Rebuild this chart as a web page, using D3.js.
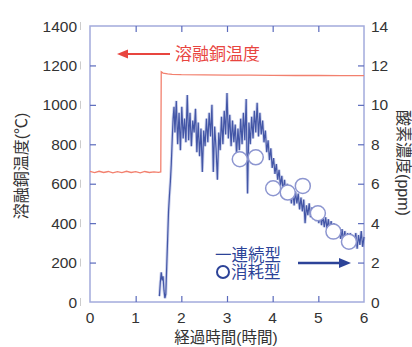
<!DOCTYPE html>
<html><head><meta charset="utf-8">
<script src="https://cdn.jsdelivr.net/npm/d3@7"></script>
<style>body{margin:0;background:#fff}svg{display:block}</style>
</head><body><svg id="c" width="412" height="347"></svg>
<script>
const xTicks = [0,1,2,3,4,5,6];
const tempTicks = [0,200,400,600,800,1000,1200,1400];
const oxyTicks = [0,2,4,6,8,10,12,14];

const tempTime = [0,0.1,0.2,0.3,0.4,0.5,0.6,0.7,0.8,0.9,1.0,1.1,1.2,1.3,1.4,1.5,1.55,1.56,1.6,1.7,1.8,2.0,2.5,3.0,3.5,4.0,4.5,5.0,5.5,6.0];
const tempValue = [662,656,663,657,662,655,661,656,663,657,661,655,662,657,660,658,660,1168,1161,1157,1155,1153,1152,1151,1151,1150,1149,1149,1148,1148];

const oxyTime = [1.52,1.54,1.56,1.58,1.60,1.62,1.64,1.66,1.68,1.70,1.72,1.74,1.76,1.78,1.80,1.82,1.84,
1.86,1.89,1.92,1.95,1.98,2.01,2.04,2.07,2.10,2.13,2.16,2.19,2.22,2.25,2.28,2.31,2.34,2.37,2.40,2.43,2.46,2.49,2.52,2.55,2.58,2.61,2.64,2.67,2.70,2.73,2.76,2.79,2.82,2.85,2.88,2.91,2.94,2.97,3.00,3.03,3.06,3.09,3.12,3.15,3.18,3.21,3.24,3.27,3.30,3.33,3.36,3.39,3.42,3.45,3.48,3.51,3.54,3.57,3.60,3.63,3.66,3.69,3.72,3.75,3.78,3.81,3.84,3.87,3.90,3.93,3.96,3.99,4.02,4.05,4.08,4.11,4.14,4.17,4.20,4.23,4.26,4.29,4.32,4.35,4.38,4.41,4.44,4.47,4.50,4.53,4.56,4.59,4.62,4.65,4.68,4.71,4.74,4.77,4.80,4.83,4.86,4.89,4.92,4.95,4.98,5.01,5.04,5.07,5.10,5.13,5.16,5.19,5.22,5.25,5.28,5.31,5.34,5.37,5.40,5.43,5.46,5.49,5.52,5.55,5.58,5.61,5.64,5.67,5.70,5.73,5.76,5.79,5.82,5.85,5.88,5.91,5.94,5.97,6.00];
const oxyValue = [0.3,1.0,1.5,1.1,1.3,0.6,0.2,0.4,1.8,3.2,4.6,5.4,6.1,7.0,8.2,9.3,9.9,
8.6,10.2,8.0,9.6,7.7,9.9,8.3,9.3,8.1,10.5,8.2,9.6,7.9,9.2,8.6,9.8,7.6,9.1,7.4,8.8,6.6,8.7,7.9,9.3,8.1,9.6,8.4,10.0,6.6,8.9,7.8,6.2,8.6,7.7,9.4,8.0,9.7,8.5,10.6,8.3,9.5,7.9,9.2,8.1,9.0,7.5,8.8,7.7,9.3,8.0,9.6,8.2,10.3,5.5,9.1,8.0,9.4,8.3,9.7,8.6,10.1,8.4,9.6,8.5,9.2,8.1,8.7,7.6,8.2,7.2,7.8,6.8,7.3,6.5,7.0,6.2,6.7,5.9,6.4,5.6,6.2,5.3,6.0,5.2,5.8,5.0,5.7,4.9,5.6,5.0,5.5,4.7,5.3,4.6,5.2,4.0,4.9,4.4,5.0,4.3,4.8,4.2,4.7,4.1,4.6,4.0,4.5,3.9,4.4,3.8,4.3,3.7,4.2,3.6,4.1,3.5,4.0,3.4,3.9,3.3,3.8,3.2,3.7,3.1,3.6,3.0,3.5,2.9,3.5,2.8,3.4,2.9,3.5,2.7,3.4,2.9,3.6,2.8,3.3];

const circTime = [3.28,3.63,4.01,4.33,4.66,4.99,5.33,5.67];
const circValue = [7.24,7.34,5.77,5.55,5.89,4.50,3.57,3.06];

const svg = d3.select("#c");
const L=90, R=364, T=26, B=302;
const x = d3.scaleLinear().domain([0,6]).range([L,R]);
const yT = d3.scaleLinear().domain([0,1400]).range([B,T]);
const yO = d3.scaleLinear().domain([0,14]).range([B,T]);
const FONT = "'Liberation Sans','Noto Sans CJK JP',sans-serif";
const frameC = "#a3abdc", tickC = "#5a6abc", textC = "#333";

// frame
svg.append("rect").attr("x",L).attr("y",T).attr("width",R-L).attr("height",B-T)
  .attr("fill","none").attr("stroke",frameC).attr("stroke-width",1.5);

// axes via d3
const axL = svg.append("g").attr("transform",`translate(${L},0)`)
  .call(d3.axisRight(yT).tickValues(tempTicks.slice(1,-1)).tickSize(6).tickFormat(""));
const axR = svg.append("g").attr("transform",`translate(${R},0)`)
  .call(d3.axisLeft(yO).tickValues(oxyTicks.slice(1,-1)).tickSize(6).tickFormat(""));
const axB = svg.append("g").attr("transform",`translate(0,${B})`)
  .call(d3.axisTop(x).tickValues(xTicks.slice(1,-1)).tickSize(6).tickFormat(""));
const axTop = svg.append("g").attr("transform",`translate(0,${T})`)
  .call(d3.axisBottom(x).tickValues(xTicks.slice(1,-1)).tickSize(6).tickFormat(""));
[axL,axR,axB,axTop].forEach(g=>{g.select(".domain").remove();g.selectAll("line").attr("stroke",tickC).attr("stroke-width",1.2);});

// tick labels
svg.append("g").selectAll("text").data(tempTicks).join("text")
  .attr("x",77).attr("y",d=>yT(d)).attr("dy","0.36em").attr("text-anchor","end")
  .attr("font-family",FONT).attr("font-size",15.5).attr("fill",textC).text(d=>d);
svg.append("g").selectAll("line").data(tempTicks).join("line")
  .attr("x1",80.5).attr("x2",80.5).attr("y1",d=>yT(d)-4).attr("y2",d=>yT(d)+4)
  .attr("stroke","#ccc").attr("stroke-width",1);
svg.append("g").selectAll("text").data(oxyTicks).join("text")
  .attr("x",371).attr("y",d=>yO(d)).attr("dy","0.36em").attr("text-anchor","start")
  .attr("font-family",FONT).attr("font-size",15.5).attr("fill",textC).text(d=>d);
svg.append("g").selectAll("text").data(xTicks).join("text")
  .attr("x",d=>x(d)).attr("y",317).attr("dy","0.36em").attr("text-anchor","middle")
  .attr("font-family",FONT).attr("font-size",15.5).attr("fill",textC).text(d=>d);

// titles
svg.append("text").attr("transform","translate(27,166) rotate(-90)").attr("text-anchor","middle")
  .attr("font-family",FONT).attr("font-size",16).attr("fill",textC).text("溶融銅温度(℃)");
svg.append("text").attr("transform","translate(398,163) rotate(90)").attr("text-anchor","middle")
  .attr("font-family",FONT).attr("font-size",16).attr("fill",textC).text("酸素濃度(ppm)");
svg.append("text").attr("x",226).attr("y",337.5).attr("dy","0.36em").attr("text-anchor","middle")
  .attr("font-family",FONT).attr("font-size",15.5).attr("fill",textC).text("経過時間(時間)");

// temperature line
const tData = tempTime.map((t,i)=>[t,tempValue[i]]);
svg.append("path").datum(tData)
  .attr("d",d3.line().x(d=>x(d[0])).y(d=>yT(d[1])))
  .attr("fill","none").attr("stroke","#f2806e").attr("stroke-width",1.3);

// oxygen line (soft halo + core)
const oData = oxyTime.map((t,i)=>[t,oxyValue[i]]);
const oLine = d3.line().x(d=>x(d[0])).y(d=>yO(d[1]));
svg.append("path").datum(oData).attr("d",oLine)
  .attr("fill","none").attr("stroke","#8c98d4").attr("stroke-width",3).attr("opacity",0.45);
svg.append("path").datum(oData).attr("d",oLine)
  .attr("fill","none").attr("stroke","#34489f").attr("stroke-width",1.2).attr("opacity",0.9);

// consumable-type circles
svg.append("g").selectAll("circle").data(circTime.map((t,i)=>[t,circValue[i]])).join("circle")
  .attr("cx",d=>x(d[0])).attr("cy",d=>yO(d[1])).attr("r",7.5)
  .attr("fill","#fff").attr("stroke","#8d96d0").attr("stroke-width",1.5);

// red label + arrow
const red = "#e8453f";
svg.append("line").attr("x1",170).attr("x2",126).attr("y1",54).attr("y2",54).attr("stroke",red).attr("stroke-width",2);
svg.append("path").attr("d","M117,54 L128,49.5 L128,58.5 Z").attr("fill",red);
svg.append("text").attr("x",175).attr("y",54).attr("dy","0.36em")
  .attr("font-family",FONT).attr("font-size",17).attr("fill",red).text("溶融銅温度");

// blue legend + arrow
const blue = "#2c4398";
svg.append("text").attr("x",215).attr("y",255).attr("dy","0.36em")
  .attr("font-family",FONT).attr("font-size",16.5).attr("fill",blue).text("一連続型");
svg.append("circle").attr("cx",223).attr("cy",272).attr("r",6).attr("fill","none").attr("stroke",blue).attr("stroke-width",2);
svg.append("text").attr("x",231).attr("y",272).attr("dy","0.36em")
  .attr("font-family",FONT).attr("font-size",16.5).attr("fill",blue).text("消耗型");
svg.append("line").attr("x1",298).attr("x2",340).attr("y1",263).attr("y2",263).attr("stroke",blue).attr("stroke-width",2.5);
svg.append("path").attr("d","M351,263 L339,258 L339,268 Z").attr("fill",blue);
</script></body></html>
